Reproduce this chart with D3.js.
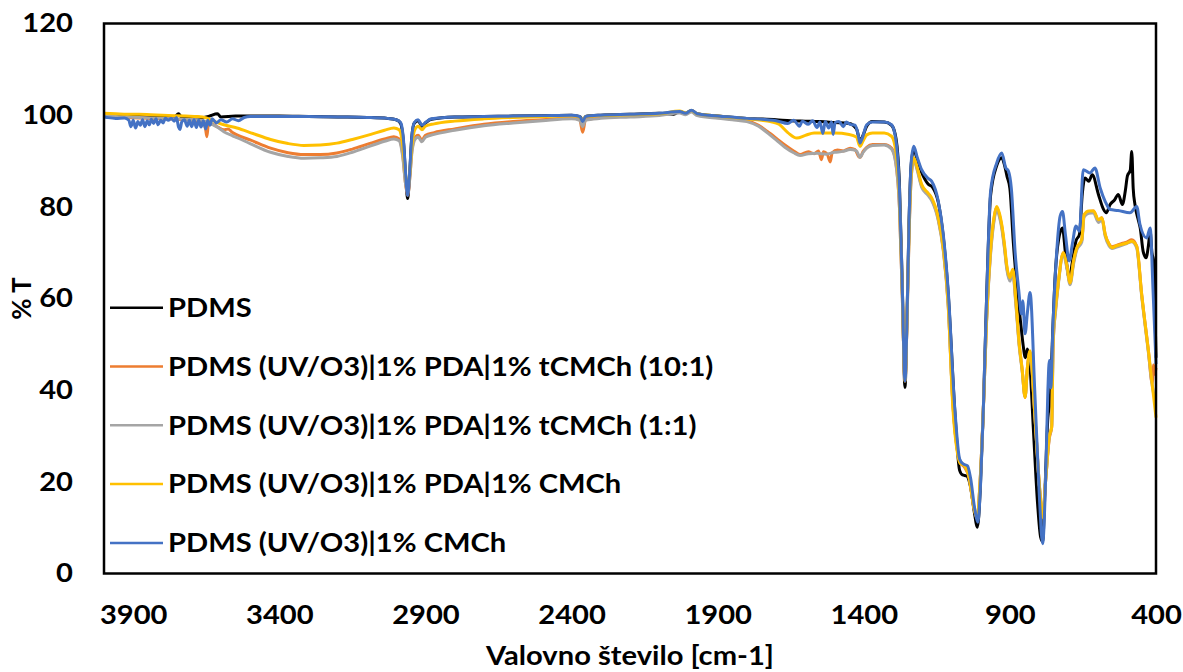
<!DOCTYPE html>
<html>
<head>
<meta charset="utf-8">
<script src="https://cdn.jsdelivr.net/npm/d3@7"></script>
<style>
  body { margin: 0; background: #fff; }
  svg { display: block; }
  text { font-family: Lato, "Open Sans", sans-serif; font-weight: bold; fill: #000; }
</style>
</head>
<body>
<svg id="chart"></svg>
<script>
"use strict";

// podatki (valovno število [cm-1], % T), odčitano s slike
var xTicks = [3900, 3400, 2900, 2400, 1900, 1400, 900, 400];
var yTicks = [0, 20, 40, 60, 80, 100, 120];
var seriesNames = [
    "PDMS",
    "PDMS (UV/O3)|1% PDA|1% tCMCh (10:1)",
    "PDMS (UV/O3)|1% PDA|1% tCMCh (1:1)",
    "PDMS (UV/O3)|1% PDA|1% CMCh",
    "PDMS (UV/O3)|1% CMCh"
];
var seriesColors = ["#000000", "#ED7D31", "#A5A5A5", "#FFC000", "#4472C4"];

var pdms = [[4000,99.7],[3960,99.8],[3920,99.6],[3880,99.8],[3840,99.6],[3800,99.7],[3760,99.6],[3745,100.3],[3735,99.6],[3700,99.6],[3660,99.5],[3640,99.8],[3612,100.3],[3600,99.6],[3550,99.8],[3500,99.8],[3400,99.8],[3300,99.7],[3200,99.6],[3100,99.5],[3030,99.3],[3000,99.0],[2985,98.2],[2975,94],[2967,86],[2961,81.8],[2955,86],[2947,95],[2938,98.3],[2925,98.8],[2912,97.6],[2900,98.3],[2880,99.1],[2800,99.6],[2700,99.7],[2600,99.8],[2500,99.9],[2400,100],[2370,99.6],[2360,98.6],[2352,99.7],[2300,100],[2200,100.2],[2100,100.4],[2050,100.2],[2030,100.8],[2010,100.4],[1990,101.0],[1970,100.3],[1900,99.8],[1800,99.3],[1700,99],[1650,98.8],[1600,98.7],[1550,98.6],[1500,98.4],[1450,98.2],[1425,97],[1413,94.5],[1403,95.5],[1390,97.6],[1370,98.6],[1330,98.5],[1305,97.8],[1290,95],[1278,85],[1268,62],[1259,40.6],[1252,56],[1245,77],[1238,89],[1229,92.6],[1218,90.5],[1202,87.5],[1180,85],[1165,84.3],[1145,81],[1128,73.5],[1111,61],[1088,35],[1072,22.5],[1062,21.5],[1048,21.3],[1035,19],[1022,13.5],[1011,10.1],[1001,19],[991,35.5],[979,61.6],[966,82.5],[945,89],[928,90.7],[918,89],[910,86.7],[900,84],[888,72],[875,62],[862,54],[855,50],[847,47.1],[840,49],[832,46],[820,32],[805,15],[795,8],[788,7],[780,18],[770,34],[762,37.7],[755,50],[745,65],[733,73],[720,75.4],[710,70],[697,64.5],[686,68],[674,72.5],[662,74],[652,83],[643,86.3],[630,85.6],[618,87],[597,82.7],[580,79.5],[570,78.7],[557,80.5],[542,81.5],[529,82.7],[515,80.5],[505,83.5],[498,86.7],[488,88],[483,92.1],[478,84],[472,80.5],[460,77],[454,75.4],[444,70.3],[434,68.9],[426,71.5],[420,74.7],[414,70],[408,68.2],[403,56],[400,47.1]];

var tcmch101 = [[4000,99.8],[3960,99.6],[3920,99.5],[3880,99.4],[3840,99.3],[3800,99.3],[3760,99.1],[3720,99.0],[3680,98.8],[3660,98.5],[3652,96.8],[3648,95.3],[3643,97.8],[3630,98],[3610,97.4],[3590,96.8],[3575,97],[3560,96.2],[3545,95.7],[3500,94.6],[3430,92.8],[3370,91.8],[3316,91.4],[3260,91.4],[3203,91.75],[3150,92.6],[3087,93.9],[3040,94.8],[3008,95.3],[2990,94.8],[2978,91.5],[2968,85],[2961,82.5],[2954,86],[2946,92.5],[2935,95.2],[2925,95.6],[2912,94.6],[2900,95.6],[2870,96.2],[2800,97],[2700,98],[2600,98.6],[2500,99],[2400,99.4],[2372,99],[2362,96.3],[2352,99],[2300,99.5],[2200,99.8],[2100,100.1],[2030,100.7],[2010,100.3],[1990,100.9],[1970,100.1],[1900,99.5],[1850,99.2],[1800,98.8],[1760,97.8],[1731,96.5],[1700,95],[1670,93.5],[1640,92.2],[1618,91.4],[1590,92],[1570,91.6],[1555,92.2],[1545,90.3],[1538,92],[1525,91.5],[1515,89.8],[1508,91.8],[1490,92.4],[1470,92.2],[1447,92.8],[1430,92.5],[1418,91],[1412,90.8],[1403,92],[1390,93],[1370,93.6],[1330,93.6],[1305,92.8],[1290,89.5],[1278,80],[1268,60],[1259,42],[1252,55],[1245,74],[1238,86],[1229,90.5],[1218,88.5],[1202,84.6],[1180,82.8],[1168,81.7],[1145,77.3],[1128,70.8],[1111,58.5],[1095,37],[1080,27],[1070,24.2],[1055,23.2],[1040,21],[1022,14],[1012,12],[1002,20],[991,35.5],[980,55],[968,68.5],[955,77],[945,79.8],[935,78],[928,75.8],[918,71],[911,67],[900,64.3],[895,65.3],[890,66],[880,59.5],[868,50],[858,44.5],[848,38.4],[840,45],[831,48.4],[815,35],[800,20],[788,12.3],[778,20],[765,29.5],[757,31.9],[752,50],[743,58],[735,63],[717,70],[705,67],[694,63.4],[682,68],[671,71],[654,72.7],[646,78.2],[630,79],[614,79.1],[597,77],[585,77.6],[574,74],[560,71.8],[551,71.3],[535,71.6],[517,72],[500,72.3],[483,72.8],[466,71.4],[449,60.9],[426,48.6],[413,41.5],[408,45.5],[404,43.5],[400,44.9]];

var tcmch11 = [[4000,99.9],[3960,99.7],[3920,99.6],[3880,99.5],[3840,99.4],[3800,99.3],[3760,99.2],[3720,99.1],[3680,99.0],[3650,98.6],[3630,98.0],[3610,97.3],[3590,96.4],[3560,95.5],[3545,95.1],[3500,93.8],[3430,91.9],[3370,91.0],[3316,90.6],[3260,90.7],[3203,91.0],[3150,91.9],[3087,93.3],[3040,94.3],[3008,94.8],[2990,94.4],[2978,91],[2968,85],[2961,83],[2954,86],[2946,92],[2935,94.8],[2925,95.2],[2912,94.2],[2900,95.2],[2870,95.8],[2800,96.7],[2700,97.7],[2600,98.3],[2500,98.8],[2400,99.2],[2372,98.9],[2362,97.5],[2352,98.9],[2300,99.3],[2200,99.6],[2100,99.9],[2030,100.5],[2010,100.1],[1990,100.7],[1970,99.9],[1900,99.3],[1850,99],[1800,98.6],[1760,97.6],[1731,96.2],[1700,94.6],[1670,93],[1640,91.8],[1618,91.2],[1590,91.6],[1560,91.7],[1530,91.5],[1500,91.9],[1470,92.1],[1447,92.5],[1425,92.2],[1413,90.8],[1403,91.8],[1390,92.8],[1370,93.4],[1330,93.5],[1305,92.6],[1290,89.3],[1278,80],[1268,60],[1259,42.5],[1252,55],[1245,74],[1238,86],[1229,90.3],[1218,88.2],[1202,84.3],[1180,82.5],[1168,81.4],[1145,77],[1128,70.5],[1111,58.2],[1095,37],[1080,27],[1070,24.5],[1055,23.5],[1040,21.2],[1022,14.2],[1012,12.2],[1002,20],[991,35.5],[980,54.5],[968,68],[955,76.6],[945,79.4],[935,77.6],[928,75.4],[918,70.6],[911,66.6],[900,63.8],[895,64.8],[890,65.5],[880,59],[868,49.5],[858,44.2],[848,38.6],[840,44.6],[831,48],[815,35],[800,20],[788,12.5],[778,20],[765,29.8],[757,32.2],[752,50],[743,57.6],[735,62.6],[717,69.6],[705,66.6],[694,63],[682,67.6],[671,70.6],[654,72.3],[646,77.8],[630,78.6],[614,78.7],[597,76.6],[585,77.2],[574,73.6],[560,71.4],[551,70.9],[535,71.2],[517,71.6],[500,72],[483,72.4],[466,71],[449,60.5],[426,48.2],[413,41],[405,38.5],[400,38]];

var pdaCmch = [[4000,100.4],[3960,100.3],[3920,100.2],[3880,100.2],[3840,100.1],[3800,100.0],[3760,99.9],[3720,99.8],[3680,99.7],[3650,99.4],[3625,98.7],[3590,97.9],[3545,97.2],[3490,96.0],[3430,94.7],[3370,93.8],[3316,93.4],[3260,93.5],[3203,93.9],[3150,94.7],[3087,95.8],[3040,96.7],[3008,97.2],[2990,96.8],[2978,93.5],[2968,87],[2961,84],[2954,87],[2946,93.5],[2935,97],[2925,97.6],[2912,96.8],[2900,97.6],[2870,98.1],[2800,98.7],[2700,99.2],[2600,99.5],[2500,99.7],[2400,99.9],[2372,99.6],[2362,98.8],[2352,99.7],[2300,99.9],[2200,100.1],[2100,100.3],[2030,100.9],[2010,100.5],[1990,101.0],[1970,100.3],[1900,99.8],[1850,99.5],[1800,99.2],[1750,98.9],[1720,98.6],[1690,98],[1660,96.2],[1629,95],[1600,95.6],[1570,96.1],[1550,96.1],[1500,96.1],[1450,95.8],[1425,95.2],[1413,93.2],[1403,94.3],[1390,95.7],[1370,96.1],[1330,96.1],[1305,95.4],[1290,92],[1278,82],[1268,61],[1259,42],[1252,56],[1245,75],[1238,87],[1229,90.7],[1218,88.8],[1202,84.9],[1180,83],[1168,82],[1145,77.6],[1128,71.1],[1111,58.8],[1095,36],[1080,26.5],[1070,24],[1055,23.5],[1040,21],[1022,14],[1012,12],[1002,20],[991,35.5],[980,55],[968,68.9],[955,77.5],[945,80.1],[935,78.4],[928,76.2],[918,71.5],[911,67.4],[900,64.5],[895,65.5],[890,66.4],[880,60],[868,50],[858,44.5],[848,38.4],[840,45],[831,48.6],[815,35],[800,20],[788,12.3],[778,20],[765,30],[757,31.9],[752,51.5],[743,58.5],[735,63.1],[717,70],[705,67.2],[694,63.4],[682,68.3],[671,71],[654,72.9],[646,78.3],[630,79.1],[614,79.1],[597,77.2],[585,77.6],[574,74],[560,71.8],[551,71.1],[535,71.5],[517,71.8],[500,72.1],[483,72.5],[466,71.4],[449,60.9],[426,48.6],[413,41.3],[400,34]];

var uvCmch = [[4000,99.6],[3990,99.5],[3960,99.3],[3930,99.4],[3915,98.9],[3908,97.5],[3900,98.9],[3892,97.2],[3884,98.6],[3876,97.8],[3868,99],[3860,97.5],[3852,98.8],[3845,97.9],[3838,99.1],[3830,98.2],[3822,99.2],[3815,97.9],[3806,98.9],[3798,98.3],[3790,99.3],[3780,98.9],[3770,99.3],[3760,98.7],[3752,99.5],[3745,97.4],[3740,96.9],[3734,98.5],[3725,99],[3715,97.6],[3708,98.9],[3700,97.5],[3692,99],[3684,97.3],[3676,98.9],[3668,97.4],[3660,98.8],[3652,97],[3645,98.9],[3637,97.8],[3630,99.2],[3615,98.3],[3600,99],[3580,98.5],[3560,99.2],[3540,98.8],[3520,99.5],[3500,99.7],[3400,99.7],[3300,99.7],[3200,99.6],[3100,99.5],[3030,99.3],[3000,99.0],[2985,98.4],[2975,94.5],[2967,86.5],[2961,82.5],[2955,86.5],[2947,95],[2938,98.4],[2925,99],[2912,97.8],[2900,98.4],[2880,99.2],[2800,99.6],[2700,99.7],[2600,99.8],[2500,99.9],[2400,100],[2372,99.7],[2362,98.6],[2352,99.7],[2300,100],[2200,100.2],[2100,100.4],[2030,100.8],[2010,100.4],[1990,101.1],[1970,100.3],[1900,99.8],[1800,99.3],[1731,99],[1700,98.8],[1660,98.2],[1640,98.9],[1620,97.6],[1610,98.7],[1590,98],[1575,98.8],[1560,97.3],[1550,98.5],[1540,96],[1532,98.6],[1520,97.2],[1510,98.5],[1505,95.8],[1498,98.4],[1485,98.6],[1470,97.5],[1460,98.5],[1447,98],[1430,97.8],[1420,96],[1413,93.9],[1405,95],[1390,97.9],[1370,98.5],[1330,98.5],[1305,97.9],[1290,94.5],[1278,84],[1268,62],[1259,42],[1252,56],[1245,77],[1238,89.5],[1229,93.2],[1218,91],[1202,88.1],[1180,86.2],[1168,85.6],[1145,81.2],[1128,74],[1111,61.6],[1088,35.5],[1072,25],[1060,23.9],[1045,23.5],[1035,21],[1020,14],[1010,11.2],[1000,20],[991,35.5],[979,61.6],[966,83.4],[945,89.6],[928,91.75],[914,88.5],[905,87.8],[895,84],[882,70],[870,62],[860,56.6],[856,59.5],[848,52.3],[840,57],[831,61.3],[815,40],[800,18],[788,6.5],[778,20],[770,40],[765,46.5],[760,40.5],[752,55],[740,70],[728,78],[720,79],[710,74],[697,68.2],[686,72],[674,75.8],[662,74.7],[649,88.1],[626,87.4],[609,88.5],[591,84.1],[574,81.2],[557,79.4],[530,79.2],[489,78.7],[466,80.1],[455,76.2],[432,73.2],[420,75.4],[410,61.6],[400,45.7]];

var seriesData = [pdms, tcmch101, tcmch11, pdaCmch, uvCmch];

// prostor
var iWidth = 1183, iHeight = 672;
var oPlot = { left: 104, right: 1156, top: 23.5, bottom: 573.5 };
var iFont = 26;
var fStretch = 1.12; // izvirna slika je vodoravno raztegnjena

// raztegni besedilo vodoravno
function stretch(selection) {
    selection.each(function() {
        var w = this.getComputedTextLength();
        d3.select(this)
            .attr("textLength", w * fStretch)
            .attr("lengthAdjust", "spacingAndGlyphs");
    });
}

var svg = d3.select("#chart")
    .attr("width", iWidth)
    .attr("height", iHeight);

svg.append("rect")
    .attr("width", iWidth)
    .attr("height", iHeight)
    .attr("fill", "#fff");

// skale
var xScale = d3.scaleLinear()
    .domain([4000, 400])
    .range([oPlot.left, oPlot.right]);

var yScale = d3.scaleLinear()
    .domain([0, 120])
    .range([oPlot.bottom, oPlot.top]);

// os y
var gY = svg.append("g")
    .attr("transform", `translate(${oPlot.left}, 0)`)
    .call(d3.axisLeft(yScale).tickValues(yTicks).tickSize(0).tickPadding(31));
gY.select(".domain").remove();
gY.selectAll("text")
    .attr("font-size", iFont)
    .attr("font-family", null)
    .call(stretch);

// os x
var gX = svg.append("g")
    .attr("transform", `translate(0, ${oPlot.bottom})`)
    .call(d3.axisBottom(xScale).tickValues(xTicks).tickFormat(d3.format("d")).tickSize(0).tickPadding(32));
gX.select(".domain").remove();
gX.selectAll("text")
    .attr("font-size", iFont)
    .attr("font-family", null)
    .call(stretch);

// naslova osi
svg.append("text")
    .attr("x", (oPlot.left + oPlot.right) / 2)
    .attr("y", 665)
    .attr("text-anchor", "middle")
    .attr("font-size", iFont)
    .text("Valovno število [cm-1]")
    .call(stretch);

svg.append("text")
    .attr("transform", `translate(31, ${(oPlot.top + oPlot.bottom) / 2}) rotate(-90)`)
    .attr("text-anchor", "middle")
    .attr("font-size", iFont)
    .text("% T");

// črte
var line = d3.line()
    .x(d => xScale(d[0]))
    .y(d => yScale(d[1]))
    .curve(d3.curveMonotoneX);

var gLines = svg.append("g");
seriesData.forEach(function(aPoints, i) {
    gLines.append("path")
        .datum(aPoints)
        .attr("fill", "none")
        .attr("stroke", seriesColors[i])
        .attr("stroke-width", 3)
        .attr("stroke-linejoin", "round")
        .attr("d", line);
});

// okvir
svg.append("rect")
    .attr("x", oPlot.left)
    .attr("y", oPlot.top)
    .attr("width", oPlot.right - oPlot.left)
    .attr("height", oPlot.bottom - oPlot.top)
    .attr("fill", "none")
    .attr("stroke", "#000")
    .attr("stroke-width", 2.5);

// legenda
var gLegend = svg.append("g");
seriesNames.forEach(function(sName, i) {
    var fY = 307.7 + i * 58.8;
    gLegend.append("line")
        .attr("x1", 110).attr("x2", 163)
        .attr("y1", fY).attr("y2", fY)
        .attr("stroke", seriesColors[i])
        .attr("stroke-width", 2.5);
    gLegend.append("text")
        .attr("x", 168)
        .attr("y", fY)
        .attr("dy", "0.36em")
        .attr("font-size", iFont)
        .text(sName)
        .call(stretch);
});
</script>
</body>
</html>
